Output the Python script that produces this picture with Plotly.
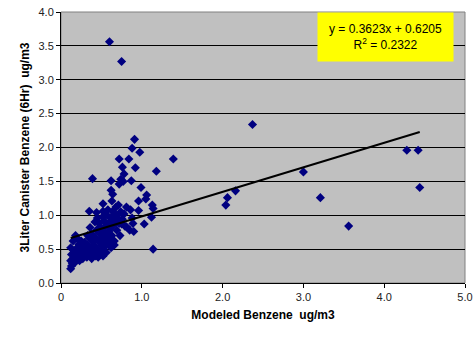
import plotly.graph_objects as go

# Modeled benzene (x) and 3-liter canister benzene (y), ug/m3
modeled = [
    0.60, 0.75, 0.91, 0.88, 2.37, 2.06, 2.04, 2.16, 3.00, 3.21, 3.56, 4.28, 4.42, 4.44,
    0.975, 0.72, 0.84, 1.39, 0.76, 0.92, 1.18, 0.78, 0.39, 0.62, 0.74, 0.77, 0.87, 0.72,
    0.99, 0.62, 0.64, 1.06, 1.05, 0.96, 0.52, 0.63, 0.71, 0.81, 0.86, 0.96, 1.13, 1.14,
    1.12, 1.03, 0.35, 0.44, 0.52, 1.14, 0.88, 0.89, 0.85, 0.90,
    0.12, 0.13, 0.14, 0.12, 0.15, 0.17, 0.18, 0.16, 0.19, 0.20,
    0.21, 0.22, 0.23, 0.24, 0.25, 0.26, 0.27, 0.28, 0.29, 0.22, 0.25, 0.30,
    0.31, 0.32, 0.33, 0.34, 0.35, 0.36, 0.37, 0.38, 0.39, 0.40, 0.33, 0.36, 0.38, 0.40,
    0.41, 0.42, 0.43, 0.44, 0.45, 0.46, 0.47, 0.48, 0.49, 0.50, 0.42, 0.45, 0.48, 0.46, 0.50,
    0.51, 0.52, 0.53, 0.54, 0.55, 0.56, 0.57, 0.58, 0.59, 0.60, 0.52, 0.55, 0.58, 0.60, 0.54,
    0.61, 0.62, 0.63, 0.64, 0.65, 0.66, 0.67, 0.68, 0.69, 0.70, 0.63, 0.66,
    0.72, 0.74, 0.76, 0.78, 0.73, 0.79,
    0.13, 0.12, 0.15, 0.18, 0.20, 0.70, 0.75, 0.81, 0.545,
    0.52, 0.56, 0.62, 0.66,
]
canister = [
    3.56, 3.27, 2.12, 1.99, 2.34, 1.26, 1.15, 1.36, 1.64, 1.26, 0.84, 1.96, 1.96, 1.41,
    1.93, 1.83, 1.83, 1.83, 1.71, 1.70, 1.65, 1.61, 1.54, 1.51, 1.53, 1.50, 1.51, 1.46,
    1.41, 1.37, 1.31, 1.30, 1.24, 1.21, 1.17, 1.21, 1.15, 1.12, 1.08, 1.07, 1.15, 1.10,
    0.97, 0.87, 1.06, 1.04, 1.06, 0.50, 0.96, 0.88, 0.78, 0.76,
    0.21, 0.25, 0.29, 0.33, 0.36, 0.30, 0.40, 0.45, 0.34, 0.52,
    0.38, 0.44, 0.33, 0.48, 0.40, 0.55, 0.36, 0.46, 0.60, 0.57, 0.62, 0.42,
    0.50, 0.38, 0.56, 0.45, 0.66, 0.40, 0.52, 0.72, 0.48, 0.60, 0.70, 0.82, 0.36, 0.44,
    0.55, 0.68, 0.40, 0.78, 0.50, 0.62, 0.88, 0.45, 0.72, 0.56, 0.90, 0.96, 0.82, 0.38, 0.66,
    0.78, 0.50, 0.92, 0.62, 0.84, 0.70, 1.00, 0.58, 0.76, 0.90, 0.98, 0.55, 1.08, 0.66, 0.74,
    0.80, 0.96, 0.70, 1.06, 0.86, 0.62, 0.94, 1.12, 0.78, 1.00, 0.58, 1.02,
    0.88, 1.05, 0.94, 1.02, 0.70, 0.84,
    0.42, 0.52, 0.62, 0.70, 0.66, 0.95, 0.87, 0.83, 0.73,
    0.40, 0.45, 0.52, 0.56,
]

# Linear trendline reported on the chart
slope = 0.3623
intercept = 0.6205
r_squared = 0.2322

x_ticks = [0, 1, 2, 3, 4, 5]
x_tick_labels = ["0", "1.0", "2.0", "3.0", "4.0", "5.0"]
y_ticks = [0, 0.5, 1.0, 1.5, 2.0, 2.5, 3.0, 3.5, 4.0]

fig = go.Figure()
fig.add_trace(go.Scatter(
    x=modeled, y=canister, mode="markers",
    marker=dict(symbol="diamond", size=7, color="#000080", line=dict(width=0)),
    showlegend=False, hoverinfo="skip",
))
x0, x1 = min(modeled), max(modeled)
fig.add_trace(go.Scatter(
    x=[x0, x1], y=[slope * x0 + intercept, slope * x1 + intercept],
    mode="lines", line=dict(color="black", width=2), showlegend=False,
))

fig.add_shape(type="rect", xref="paper", yref="paper", x0=0, x1=1, y0=0, y1=1,
              line=dict(color="#808080", width=1), layer="below")

fig.add_annotation(
    x=4.02, y=3.63, xref="x", yref="y", showarrow=False,
    text=f"y = {slope:.4f}x + {intercept:.4f}<br>R<sup>2</sup> = {r_squared:.4f}",
    font=dict(family="Arial, Liberation Sans", size=12, color="black"),
    bgcolor="#FFFF00", width=133, height=46, align="center",
)

fig.update_layout(
    width=475, height=339,
    margin=dict(l=61, r=10, t=12, b=56, autoexpand=False),
    paper_bgcolor="white", plot_bgcolor="#C0C0C0",
    font=dict(family="Arial, Liberation Sans", size=11, color="#222"),
    xaxis=dict(
        range=[0, 5], tickvals=x_ticks, ticktext=x_tick_labels, automargin=False,
        showgrid=False, zeroline=False, showline=True, linecolor="black", linewidth=1,
        ticks="outside", ticklen=4, tickcolor="black",
        title=dict(text="<b>Modeled Benzene  ug/m3</b>", font=dict(size=12, color="black"), standoff=8),
    ),
    yaxis=dict(
        range=[0, 4], tickvals=y_ticks, tickformat=".1f", automargin=False,
        showgrid=True, gridcolor="black", gridwidth=1, zeroline=False,
        showline=True, linecolor="black", linewidth=1,
        ticks="outside", ticklen=4, tickcolor="black",
        title=dict(text="<b>3Liter Canister Benzene (6Hr)  ug/m3</b>", font=dict(size=12, color="black"), standoff=6),
    ),
)

fig.write_html(
    "out.html",
    config={"displayModeBar": False},
    post_script="document.body.style.margin='0';document.body.style.overflow='hidden';",
)
